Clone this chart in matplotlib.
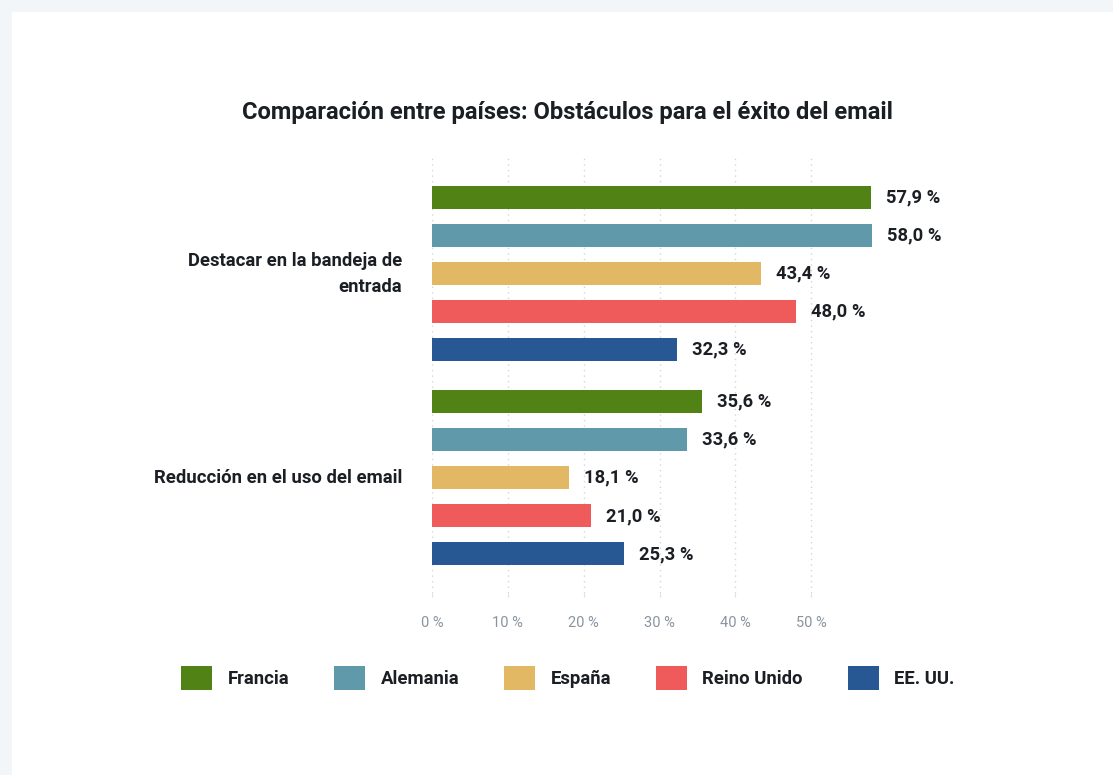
import matplotlib.pyplot as plt
from matplotlib.patches import Patch, Rectangle
import numpy as np

plt.rcParams["font.family"] = ["Roboto", "DejaVu Sans"]

categories = ["Destacar en la bandeja de\nentrada", "Reducción en el uso del email"]
countries = ["Francia", "Alemania", "España", "Reino Unido", "EE. UU."]
values = {
    "Francia": [57.9, 35.6],
    "Alemania": [58.0, 33.6],
    "España": [43.4, 18.1],
    "Reino Unido": [48.0, 21.0],
    "EE. UU.": [32.3, 25.3],
}
colors = ["#518215", "#5f99aa", "#e2b865", "#ef5a5a", "#285894"]
x_ticks = [0, 10, 20, 30, 40, 50]

W, H = 1113, 775
fig = plt.figure(figsize=(W / 100, H / 100), dpi=100)
fig.patch.set_facecolor("#f3f6f9")
# white card behind everything
fig.patches.append(Rectangle((12 / W, 0), 1, 1 - 12 / H, transform=fig.transFigure,
                             facecolor="white", edgecolor="none", zorder=-10))

ax_left, ax_right = 432, 887
ax_top, ax_bottom = 156, 593
ax = fig.add_axes([ax_left / W, 1 - ax_bottom / H, (ax_right - ax_left) / W,
                   (ax_bottom - ax_top) / H])
ax.set_facecolor("none")
ax.set_zorder(5)

step = 0.1863
bar_h = 0.113
y_base = np.arange(len(categories))
for i, (name, color) in enumerate(zip(countries, colors)):
    ys = y_base + (i - 2) * step
    vals = values[name]
    ax.barh(ys, vals, height=bar_h, color=color, zorder=3)
    for y, v in zip(ys, vals):
        ax.annotate(f"{v:.1f} %".replace(".", ","), (v, y), xytext=(15, 0),
                    textcoords="offset pixels", va="center", ha="left",
                    fontsize=13.2, fontweight="bold", color="#1b1f24",
                    annotation_clip=False)

ax.set_xlim(0, 60)
ax.set_ylim(1.564, -0.578)
ax.set_xticks(x_ticks)
ax.set_xticklabels([f"{t} %" for t in x_ticks], fontsize=10.5, color="#8a949f")
ax.set_yticks(y_base)
ax.set_yticklabels(categories, fontsize=13.3, fontweight="bold", color="#1b1f24",
                   ha="right", va="center", linespacing=1.6)
ax.tick_params(axis="y", length=0, pad=21.5)
ax.tick_params(axis="x", length=3, color="#e0e0e0", pad=13.5)
ax.grid(axis="x", linestyle=(0, (1, 3)), color="#d6d6d6", linewidth=1, zorder=0)
for s in ax.spines.values():
    s.set_visible(False)

fig.text(567 / W, 1 - 113 / H,
         "Comparación entre países: Obstáculos para el éxito del email",
         ha="center", va="center", fontsize=17.1, fontweight="bold", color="#1b1f24")

handles = [Patch(facecolor=c, edgecolor="none") for c in colors]
fig.legend(handles, countries, loc="center", bbox_to_anchor=(568 / W, 1 - 678 / H),
           ncol=5, frameon=False, handlelength=1.67, handleheight=1.67,
           handletextpad=0.85, columnspacing=2.42,
           prop={"size": 13.3, "weight": "bold"}, labelcolor="#1b1f24")

fig.savefig("out.png", dpi=100)
